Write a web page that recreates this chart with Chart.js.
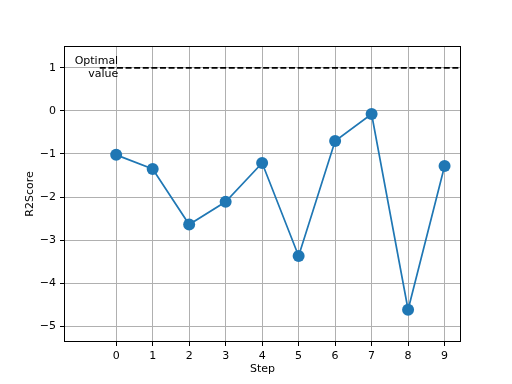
<!DOCTYPE html>
<html>
<head>
<meta charset="utf-8">
<script src="https://cdn.jsdelivr.net/npm/chart.js@4"></script>
<style>
html,body{margin:0;padding:0;background:#fff;}
#wrap{width:512px;height:384px;}
</style>
</head>
<body>
<div id="wrap"><canvas id="c" width="512" height="384"></canvas></div>
<script>
const steps = [0, 1, 2, 3, 4, 5, 6, 7, 8, 9];
const r2scores = [-1.02, -1.35, -2.64, -2.11, -1.21, -3.37, -0.70, -0.07, -4.62, -1.28];
const optimalValue = 1;
const optimalRange = [-0.45, 9.45];
const xTicks = [0, 1, 2, 3, 4, 5, 6, 7, 8, 9];
const yTicks = [-5, -4, -3, -2, -1, 0, 1];
const xLabel = 'Step';
const yLabel = 'R2Score';
const annotationLines = ['Optimal', 'value'];

const FONT = 'DejaVu Sans';
const fmt = v => (v < 0 ? '\u2212' + Math.abs(v) : String(v));

const framePlugin = {
  id: 'frame',
  afterDraw(chart) {
    const {ctx, chartArea: a} = chart;
    ctx.save();
    ctx.strokeStyle = '#000';
    ctx.lineWidth = 1;
    ctx.strokeRect(Math.round(a.left) + 0.5, Math.round(a.top) + 0.5,
                   Math.round(a.right - a.left) - 1, Math.round(a.bottom - a.top) - 1);
    // annotation text
    const xs = chart.scales.x, ys = chart.scales.y;
    ctx.fillStyle = '#000';
    ctx.font = '11px "' + FONT + '"';
    ctx.textAlign = 'right';
    ctx.textBaseline = 'middle';
    const xr = xs.getPixelForValue(0) + 2;
    const y1 = ys.getPixelForValue(optimalValue);
    ctx.fillText(annotationLines[0], xr, y1 - 6.5);
    ctx.fillText(annotationLines[1], xr, y1 + 6);
    // axis titles
    ctx.textAlign = 'center';
    ctx.fillText(xLabel, (a.left + a.right) / 2, 369);
    ctx.save();
    ctx.translate(30, (a.top + a.bottom) / 2);
    ctx.rotate(-Math.PI / 2);
    ctx.fillText(yLabel, 0, 0);
    ctx.restore();
    ctx.restore();
  }
};

new Chart(document.getElementById('c'), {
  type: 'scatter',
  data: {
    datasets: [
      {
        data: optimalRange.map(x => ({x: x, y: optimalValue})),
        showLine: true,
        borderColor: '#000',
        borderWidth: 1.7,
        borderDash: [6, 2.6],
        pointRadius: 0,
        pointHoverRadius: 0
      },
      {
        data: steps.map((s, i) => ({x: s, y: r2scores[i]})),
        showLine: true,
        borderColor: '#1f77b4',
        backgroundColor: '#1f77b4',
        borderWidth: 1.7,
        pointRadius: 6,
        pointBorderWidth: 0,
        pointBackgroundColor: '#1f77b4'
      }
    ]
  },
  options: {
    responsive: false,
    animation: false,
    events: [],
    layout: {padding: {left: 0, right: 51, top: 46, bottom: 0}},
    plugins: {legend: {display: false}, tooltip: {enabled: false}},
    scales: {
      x: {
        type: 'linear',
        min: -1.43,
        max: 9.45,
        afterBuildTicks: s => { s.ticks = xTicks.map(v => ({value: v})); },
        afterFit: s => { s.height = 42; },
        grid: {color: '#b0b0b0', lineWidth: 1, tickColor: '#000', tickLength: 4, drawOnChartArea: true},
        border: {display: false},
        ticks: {color: '#000', font: {family: FONT, size: 11}, padding: 4, maxRotation: 0, autoSkip: false, callback: v => fmt(v)}
      },
      y: {
        type: 'linear',
        min: -5.37,
        max: 1.51,
        afterBuildTicks: s => { s.ticks = yTicks.map(v => ({value: v})); },
        afterFit: s => { s.width = 64; },
        grid: {color: '#b0b0b0', lineWidth: 1, tickColor: '#000', tickLength: 4},
        border: {display: false},
        ticks: {color: '#000', font: {family: FONT, size: 11}, padding: 4, autoSkip: false, callback: v => fmt(v)}
      }
    }
  },
  plugins: [framePlugin]
});
</script>
</body>
</html>
